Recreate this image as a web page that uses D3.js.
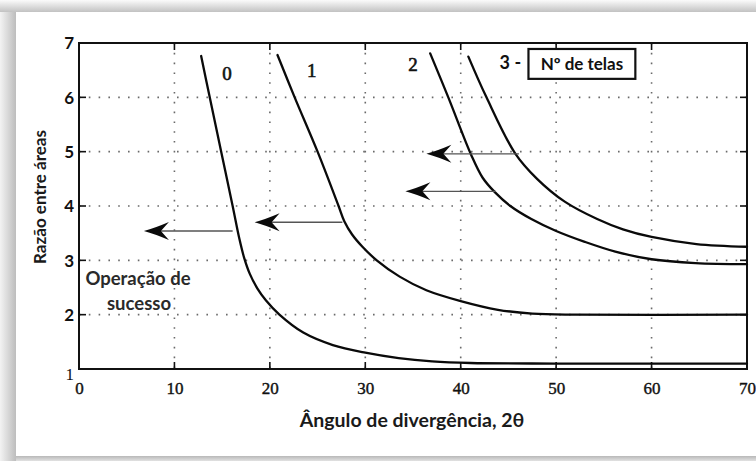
<!DOCTYPE html>
<html>
<head>
<meta charset="utf-8">
<script src="https://cdn.jsdelivr.net/npm/d3@7"></script>
<style>
  html, body { margin: 0; padding: 0; background: #ffffff; }
  svg { display: block; }
</style>
</head>
<body>
<svg id="chart" width="756" height="461"></svg>
<script>
// ---------- DATA ----------
const xTicks = [0, 10, 20, 30, 40, 50, 60, 70];
const yTicks = [1, 2, 3, 4, 5, 6, 7];

const curve0X = [12.8, 13.7, 14.9, 16.1, 16.8, 17.3, 17.9, 18.7, 19.6, 21.0, 23.5, 26.6, 30, 33.5, 37, 41, 50, 70];
const curve0Y = [6.76, 6.0, 5.0, 4.0, 3.4, 3.05, 2.75, 2.48, 2.26, 2.0, 1.67, 1.44, 1.3, 1.2, 1.14, 1.11, 1.1, 1.1];

const curve1X = [20.8, 22.6, 25.0, 27.2, 27.8, 28.6, 29.7, 31.2, 33.6, 36.4, 40, 43.9, 47.5, 52, 70];
const curve1Y = [6.78, 6.0, 5.0, 4.0, 3.72, 3.48, 3.25, 3.0, 2.7, 2.45, 2.25, 2.09, 2.02, 2.0, 2.0];

const curve2X = [36.8, 38.7, 41.1, 42.3, 43.6, 45.2, 47.4, 50, 53, 56.2, 60, 64.6, 70];
const curve2Y = [6.81, 6.0, 4.94, 4.52, 4.25, 4.0, 3.76, 3.54, 3.34, 3.16, 3.02, 2.95, 2.93];

const curve3X = [40.8, 42.7, 45.7, 48.0, 50.9, 54.3, 57, 60, 64.7, 70];
const curve3Y = [6.75, 6.0, 4.97, 4.5, 4.08, 3.76, 3.57, 3.43, 3.3, 3.25];

const curveNames = ["0", "1", "2", "3 -"];
const labelX = [15.5, 24.4, 35.0, 45.2];
const labelY = [6.45, 6.5, 6.6, 6.63];

const arrowY = [3.54, 3.70, 4.27, 4.96];
const arrowFrom = [16.1, 27.6, 43.7, 46.1];
const arrowTo = [6.8, 18.4, 34.2, 36.4];

const legendText = "Nº de telas";
const noteLines = ["Operação de", "sucesso"];
const xTitle = "Ângulo de divergência, 2θ";
const yTitle = "Razão entre áreas";

// ---------- LAYOUT ----------
const svg = d3.select("#chart");
const W = 756, H = 461;
const pL = 79, pR = 747, pT = 43, pB = 369;
const SANS = "Lato, 'Open Sans', sans-serif";
const SERIF = "'Liberation Serif', 'DejaVu Serif', serif";

const x = d3.scaleLinear().domain([0, 70]).range([pL, pR]);
const y = d3.scaleLinear().domain([1, 7]).range([pB, pT]);

// ---------- PANEL WITH SHADOW ----------
const defs = svg.append("defs");
function grad(id, x1, y1, x2, y2, c1, c2) {
  const g = defs.append("linearGradient").attr("id", id)
    .attr("x1", x1).attr("y1", y1).attr("x2", x2).attr("y2", y2);
  g.append("stop").attr("offset", "0%").attr("stop-color", c1);
  g.append("stop").attr("offset", "100%").attr("stop-color", c2);
}
grad("gTop", 0, 0, 0, 1, "#fbfbfb", "#c2c2c2");
grad("gLeft", 0, 0, 1, 0, "#f3f3f3", "#bdbdbd");
grad("gBot", 0, 0, 0, 1, "#b8b8b8", "#e2e2e2");

svg.append("rect").attr("width", W).attr("height", H).attr("fill", "#f6f6f6");
svg.append("rect").attr("x", 0).attr("y", 0).attr("width", W).attr("height", 12).attr("fill", "url(#gTop)");
svg.append("rect").attr("x", 0).attr("y", 12).attr("width", 16).attr("height", H - 12).attr("fill", "url(#gLeft)");
svg.append("rect").attr("x", 16).attr("y", 456).attr("width", W - 16).attr("height", 5).attr("fill", "url(#gBot)");
svg.append("rect")
  .attr("x", 16).attr("y", 12).attr("width", W - 16).attr("height", 444)
  .attr("fill", "#ffffff");

// ---------- GRID ----------
const grid = svg.append("g");
grid.selectAll(".vg").data(xTicks.filter(d => d > 0 && d < 70)).enter()
  .append("line")
  .attr("x1", d => x(d)).attr("x2", d => x(d))
  .attr("y1", pT).attr("y2", pB)
  .attr("stroke", "#6a6a6a").attr("stroke-width", 1.6)
  .attr("stroke-dasharray", "1.6,8.2");
grid.selectAll(".hg").data(yTicks.filter(d => d > 1 && d < 7)).enter()
  .append("line")
  .attr("x1", pL).attr("x2", pR)
  .attr("y1", d => y(d)).attr("y2", d => y(d))
  .attr("stroke", "#6a6a6a").attr("stroke-width", 1.6)
  .attr("stroke-dasharray", "1.6,8.2");

// ---------- TICKS (inward, all sides) ----------
const tk = svg.append("g").attr("stroke", "#111").attr("stroke-width", 1.6);
xTicks.filter(d => d > 0 && d < 70).forEach(d => {
  tk.append("line").attr("x1", x(d)).attr("x2", x(d)).attr("y1", pB).attr("y2", pB - 7);
  tk.append("line").attr("x1", x(d)).attr("x2", x(d)).attr("y1", pT).attr("y2", pT + 7);
});
yTicks.filter(d => d > 1 && d < 7).forEach(d => {
  tk.append("line").attr("x1", pL).attr("x2", pL + 7).attr("y1", y(d)).attr("y2", y(d));
  tk.append("line").attr("x1", pR).attr("x2", pR - 7).attr("y1", y(d)).attr("y2", y(d));
});

// ---------- FRAME ----------
svg.append("rect")
  .attr("x", pL).attr("y", pT).attr("width", pR - pL).attr("height", pB - pT)
  .attr("fill", "none").attr("stroke", "#111").attr("stroke-width", 2);

// ---------- AXIS LABELS ----------
const xAxis = d3.axisBottom(x).tickValues(xTicks).tickSize(0).tickPadding(0).tickFormat(d3.format("d"));
const gx = svg.append("g").attr("transform", `translate(0,${pB})`).call(xAxis);
gx.attr("font-family", null).attr("font-size", null);
gx.select(".domain").remove();
gx.selectAll("text")
  .attr("y", 25).attr("dy", 0)
  .style("font-family", SERIF)
  .style("font-size", "17px").attr("fill", "#111")
  .attr("stroke", "#111").attr("stroke-width", 0.4);

const yAxis = d3.axisLeft(y).tickValues(yTicks).tickSize(0).tickPadding(0).tickFormat(d3.format("d"));
const gy = svg.append("g").attr("transform", `translate(${pL - 5},0)`).call(yAxis);
gy.attr("font-family", null).attr("font-size", null);
gy.select(".domain").remove();
gy.selectAll("text")
  .attr("x", 0).attr("dy", "0.35em")
  .style("font-family", d => d === 1 ? SERIF : SANS)
  .style("font-weight", d => d === 1 ? "normal" : "bold")
  .style("font-size", "17px").attr("fill", "#111");
gy.selectAll(".tick").filter(d => d === 1).select("text").attr("dy", "0.6em");

// ---------- TITLES ----------
svg.append("text")
  .attr("x", 412).attr("y", 427)
  .attr("text-anchor", "middle")
  .style("font-family", SANS).style("font-weight", "bold")
  .style("font-size", "19.5px").attr("fill", "#1a1a1a")
  .text(xTitle);

svg.append("text")
  .attr("transform", `translate(46,197) rotate(-90)`)
  .attr("text-anchor", "middle")
  .style("font-family", SANS).style("font-weight", "bold")
  .style("font-size", "17px").attr("fill", "#1a1a1a")
  .text(yTitle);

// ---------- CURVES ----------
const seriesX = [curve0X, curve1X, curve2X, curve3X];
const seriesY = [curve0Y, curve1Y, curve2Y, curve3Y];
const line = d3.line()
  .x(d => x(d[0])).y(d => y(d[1]))
  .curve(d3.curveCatmullRom.alpha(0.5));
seriesX.forEach((xs, i) => {
  const pts = xs.map((v, j) => [v, seriesY[i][j]]);
  svg.append("path").datum(pts)
    .attr("d", line)
    .attr("fill", "none").attr("stroke", "#0a0a0a").attr("stroke-width", 2.3)
    .attr("stroke-linejoin", "round").attr("stroke-linecap", "round");
});

// ---------- CURVE LABELS ----------
curveNames.forEach((t, i) => {
  const isLast = i === curveNames.length - 1;
  svg.append("text")
    .attr("x", x(labelX[i])).attr("y", y(labelY[i]))
    .attr("dy", "0.35em").attr("text-anchor", "middle")
    .style("font-family", isLast ? SANS : SERIF)
    .style("font-weight", isLast ? "bold" : "normal")
    .style("font-size", isLast ? "18px" : "19px").attr("fill", "#111")
    .attr("stroke", isLast ? "none" : "#111").attr("stroke-width", 0.6)
    .text(t);
});

// legend box
const bx0 = x(47.1), bx1 = x(58.3), by0 = y(6.89), by1 = y(6.34);
svg.append("rect")
  .attr("x", bx0).attr("y", by0).attr("width", bx1 - bx0).attr("height", by1 - by0)
  .attr("fill", "#fff").attr("stroke", "#111").attr("stroke-width", 2.2);
svg.append("text")
  .attr("x", (bx0 + bx1) / 2).attr("y", (by0 + by1) / 2).attr("dy", "0.35em")
  .attr("text-anchor", "middle")
  .style("font-family", SANS).style("font-weight", "bold")
  .style("font-size", "17px").attr("fill", "#111")
  .text(legendText);

// ---------- ARROWS ----------
arrowY.forEach((yv, i) => {
  const yy = y(yv);
  const tip = x(arrowTo[i]);
  svg.append("line")
    .attr("x1", x(arrowFrom[i])).attr("x2", tip + 12)
    .attr("y1", yy).attr("y2", yy)
    .attr("stroke", "#555").attr("stroke-width", 1.4);
  svg.append("path")
    .attr("transform", `translate(${tip},${yy})`)
    .attr("d", "M0,0 Q11,-3 25,-9 L17,0 L25,9 Q11,3 0,0 Z")
    .attr("fill", "#0a0a0a");
});

// ---------- NOTE ----------
svg.append("text")
  .attr("x", 138).attr("y", 279).attr("dy", "0.35em").attr("text-anchor", "middle")
  .style("font-family", SANS).style("font-weight", "bold")
  .style("font-size", "18.5px").attr("fill", "#2a2a2a")
  .text(noteLines[0]);
svg.append("text")
  .attr("x", 139).attr("y", 304).attr("dy", "0.35em").attr("text-anchor", "middle")
  .style("font-family", SANS).style("font-weight", "bold")
  .style("font-size", "18.5px").attr("fill", "#2a2a2a")
  .text(noteLines[1]);
</script>
</body>
</html>
